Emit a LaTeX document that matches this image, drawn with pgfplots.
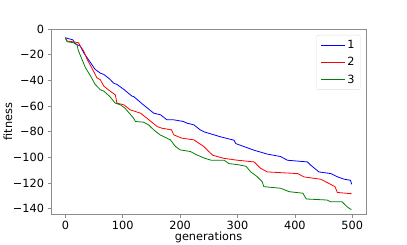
\documentclass[border=0pt]{standalone}
\usepackage{fontspec}
\setmainfont{DejaVu Sans}
\usepackage{pgfplots}
\pgfplotsset{compat=1.18}
\definecolor{mplgreen}{RGB}{0,128,0}
\definecolor{mplblue}{RGB}{0,0,255}
\definecolor{mplred}{RGB}{255,0,0}
\begin{document}
\begin{tikzpicture}
\useasboundingbox (0pt,0pt) rectangle (407pt,244pt);
\begin{axis}[
  at={(51pt,30pt)}, anchor=south west,
  scale only axis, width=315pt, height=185pt,
  xmin=-25, xmax=524, ymin=-144.2, ymax=0,
  no markers,
  xtick={0,100,200,300,400,500},
  xticklabels={0,100,200,300,400,500},
  ytick={-140,-120,-100,-80,-60,-40,-20,0},
  yticklabels={−140,−120,−100,−80,−60,−40,−20,0},
  axis line style={draw=gray!90},
  tick style={draw=gray!90, line width=0.6pt},
  tick align=outside, major tick length=3.5pt,
  xtick pos=bottom, ytick pos=left,
  ticklabel style={font=\fontsize{11.3pt}{13.5pt}\selectfont, text=black},
  xticklabel style={inner ysep=2pt, yshift=-1.5pt},
  label style={font=\fontsize{11.3pt}{13.5pt}\selectfont},
  xlabel={generations}, ylabel={fitness},
  xlabel style={at={(axis description cs:0.5,0)}, anchor=base, yshift=-26pt, inner sep=0pt},
  ylabel style={at={(axis description cs:0,0.5)}, anchor=center, yshift=43pt, inner sep=0pt},
  legend style={at={(0.983,0.968)}, anchor=north east, draw=gray!25, rounded corners=2pt,
    font=\fontsize{11.3pt}{13.5pt}\selectfont, inner xsep=4pt, inner ysep=3pt,
    row sep=3.5pt},
  legend cell align=left,
  legend image code/.code={\draw[#1] (0pt,0pt) -- (24pt,0pt);},
]
\addlegendimage{mplblue, line width=0.8pt}
\addlegendimage{mplred, line width=0.8pt}
\addlegendimage{mplgreen, line width=0.8pt}
\addplot[mplblue, line width=0.8pt, forget plot] coordinates {(0,-6.8)(5,-7.5)(13,-8.4)(17,-11.5)(26,-13.3)(32,-18.5)(40,-23.7)(52,-31.5)(61,-34.4)(67,-35.4)(78,-39.3)(84,-42.2)(90,-43.2)(102,-47.1)(116,-52.3)(119,-52.6)(136,-59.1)(154,-65.6)(166,-66.9)(177,-70.8)(189,-70.8)(206,-72.1)(212,-73.4)(224,-74.7)(235,-78.6)(242,-80.2)(271,-84.1)(294,-86.7)(297,-89.3)(329,-94.5)(352,-97.5)(375,-99.4)(387,-102.3)(422,-103.6)(427,-105.9)(442,-111.4)(463,-112.7)(473,-115)(486,-117.1)(497,-117.9)(499,-121)};
\addplot[mplred, line width=0.8pt, forget plot] coordinates {(0,-6.8)(3,-9.4)(12,-9.9)(23,-10.7)(26,-13.3)(32,-17.2)(38,-23.7)(46,-30.2)(55,-38)(61,-39.6)(67,-44.5)(75,-47.4)(87,-51.3)(90,-57.8)(102,-59.1)(113,-63)(131,-65.6)(142,-69.5)(160,-76)(168,-77.3)(185,-78.6)(189,-82.5)(203,-85.1)(224,-86.4)(241,-91.5)(250,-95.5)(257,-98.4)(276,-100.8)(300,-102.3)(329,-103.6)(340,-108.5)(352,-111.4)(405,-112.7)(416,-115.3)(445,-117.1)(460,-120.5)(470,-122.9)(474,-127.4)(499,-128.4)};
\addplot[mplgreen, line width=0.8pt, forget plot] coordinates {(0,-6.8)(3,-9.9)(14,-10.7)(20,-12)(23,-17.2)(29,-23.7)(35,-30.2)(44,-36.7)(52,-43.2)(61,-47.4)(67,-48.4)(77,-52.4)(87,-57.8)(96,-59.1)(104,-61.7)(119,-69.5)(122,-72.1)(136,-72.6)(145,-74.7)(154,-78.6)(165,-82.5)(183,-86.4)(192,-91.6)(200,-94.2)(218,-95.5)(229,-98.1)(242,-100.6)(254,-102.3)(277,-102.3)(285,-104.9)(300,-105.7)(315,-107)(323,-111.3)(334,-115)(343,-119)(346,-122.9)(375,-124.1)(390,-126.8)(414,-128)(420,-132.5)(456,-133.3)(462,-134.6)(482,-134.6)(491,-138.5)(497,-140.5)(499,-140.5)};
\legend{1,2,3}
\end{axis}
\end{tikzpicture}
\end{document}
